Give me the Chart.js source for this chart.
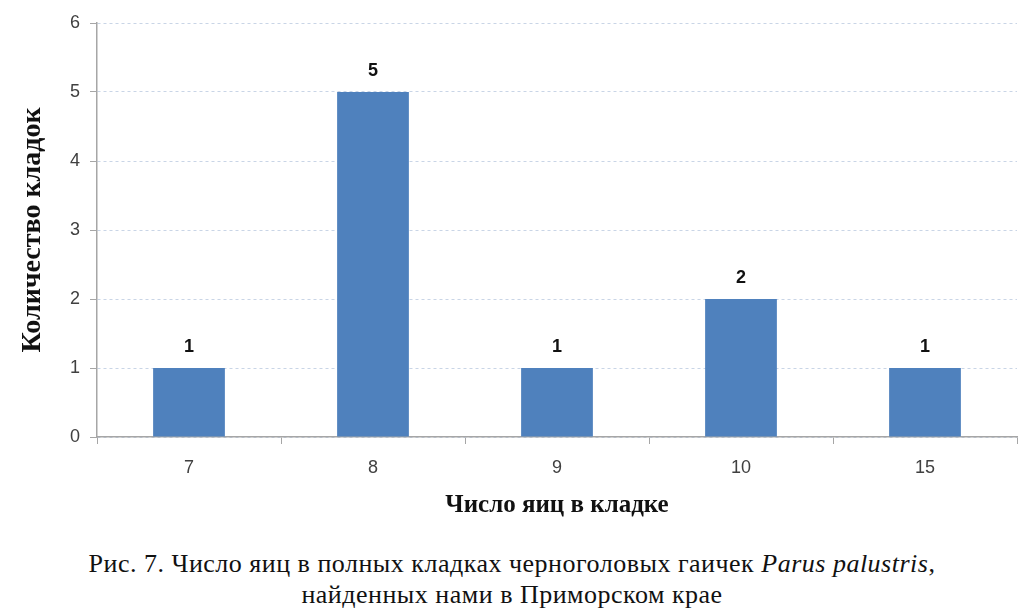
<!DOCTYPE html>
<html>
<head>
<meta charset="utf-8">
<script src="https://cdn.jsdelivr.net/npm/chart.js@4"></script>
<style>
  body { margin: 0; background: #fff; width: 1024px; height: 611px; overflow: hidden; }
  #wrap { position: absolute; left: 0; top: 0; width: 1024px; height: 525px; }
  #caption {
    position: absolute; left: 0; top: 548px; width: 1024px;
    text-align: center; font-family: "Liberation Serif", "Times New Roman", "DejaVu Serif", serif;
    font-size: 26px; letter-spacing: 0.5px; line-height: 31px; color: #111;
  }
</style>
</head>
<body>
<div id="wrap"><canvas id="barChart" width="1024" height="525"></canvas></div>
<div id="caption">Рис. 7. Число яиц в полных кладках черноголовых гаичек <i>Parus palustris</i>,<br>найденных нами в Приморском крае</div>
<script>
const categories = ['7', '8', '9', '10', '15'];
const clutchCounts = [1, 5, 1, 2, 1];
const yTicks = [0, 1, 2, 3, 4, 5, 6];

const valueLabels = {
    id: 'valueLabels',
    afterDatasetsDraw(chart) {
        const c = chart.ctx;
        const meta = chart.getDatasetMeta(0);
        c.save();
        c.font = 'bold 18px "Liberation Sans", sans-serif';
        c.fillStyle = '#111';
        c.textAlign = 'center';
        c.textBaseline = 'bottom';
        meta.data.forEach((bar, i) => {
            c.fillText(String(clutchCounts[i]), bar.x, bar.y - 12);
        });
        c.restore();
    }
};

const ctx = document.getElementById('barChart').getContext('2d');
new Chart(ctx, {
    type: 'bar',
    data: {
        labels: categories,
        datasets: [{
            data: clutchCounts,
            backgroundColor: '#4f81bd',
            borderWidth: 0,
            categoryPercentage: 1,
            barPercentage: 0.39
        }]
    },
    options: {
        responsive: false,
        animation: false,
        layout: { padding: { top: 23, right: 7, left: 0, bottom: 0 } },
        plugins: { legend: { display: false }, tooltip: { enabled: false } },
        scales: {
            x: {
                grid: {
                    offset: true,
                    drawOnChartArea: false,
                    drawTicks: true,
                    tickLength: 7,
                    tickColor: '#a6a6a6'
                },
                border: { color: '#a6a6a6', width: 1.5 },
                ticks: {
                    color: '#404040',
                    font: { family: '"Liberation Sans", sans-serif', size: 18 },
                    padding: 13
                },
                title: {
                    display: true,
                    text: 'Число яиц в кладке',
                    color: '#111',
                    font: { family: '"Liberation Serif", serif', size: 25, weight: 'bold' },
                    padding: { top: 12 }
                },
                afterFit(scale) { scale.height = 88; }
            },
            y: {
                min: 0,
                max: 6,
                afterBuildTicks(scale) { scale.ticks = yTicks.map(v => ({ value: v })); },
                grid: {
                    color: '#c9d5e6',
                    tickColor: '#a6a6a6',
                    tickLength: 7,
                    tickBorderDash: [],
                    drawTicks: true
                },
                border: { color: '#a6a6a6', width: 1.5, dash: [3, 3] },
                ticks: {
                    color: '#404040',
                    font: { family: '"Liberation Sans", sans-serif', size: 18 },
                    padding: 10
                },
                title: {
                    display: true,
                    text: 'Количество кладок',
                    color: '#111',
                    font: { family: '"Liberation Serif", serif', size: 28, weight: 'bold' },
                    padding: { top: 16, bottom: 16 }
                },
                afterFit(scale) { scale.width = 97; }
            }
        }
    },
    plugins: [valueLabels]
});
</script>
</body>
</html>
